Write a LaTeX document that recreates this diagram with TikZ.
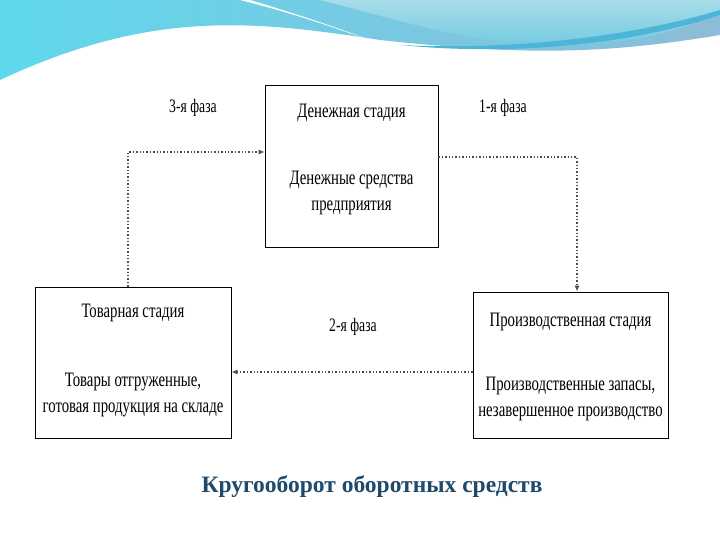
\documentclass[tikz,border=0pt]{standalone}
\usepackage{fontspec}
\setmainfont{Liberation Serif}
\usetikzlibrary{arrows.meta}
\definecolor{titlec}{HTML}{1F4A6B}
\definecolor{waveA}{HTML}{5FD8EC}
\definecolor{waveB}{HTML}{8DBCD8}
\definecolor{waveC}{HTML}{A8DDEA}
\definecolor{waveD}{HTML}{4DB5D8}
\tikzset{
  box/.style={draw=black, line width=0.9pt, fill=white, minimum width=#1, inner sep=0pt},
  conn/.style={draw=black!70, line width=1.4pt, dotted, -{Latex[length=6pt,width=5pt]}},
  txt/.style={font=\fontsize{20.5}{25}\selectfont, align=center},
  lbl/.style={font=\fontsize{19}{21}\selectfont}
}
\begin{document}
\begin{tikzpicture}[x=1pt,y=-1pt]
\useasboundingbox (0,0) rectangle (720,540);
% decorative wave
\shade[left color=waveA, right color=waveB]
  (0,0) -- (720,0) -- (720,35) .. controls (600,55) and (520,55) .. (380,40)
  .. controls (250,20) and (150,10) .. (0,80) -- cycle;
\shade[top color=waveC, bottom color=waveB!80!cyan]
  (320,0) -- (720,0) -- (720,12) .. controls (660,40) and (600,48) .. (530,45)
  .. controls (450,38) and (380,15) .. (320,0) -- cycle;
\fill[white] (240,0) .. controls (300,15) and (340,30) .. (370,40)
  .. controls (330,25) and (290,12) .. (250,0) -- cycle;
\fill[waveD] (400,45) .. controls (500,50) and (620,40) .. (720,10)
  -- (720,15) .. controls (620,48) and (500,55) .. (400,45) -- cycle;
% boxes
\node[box=173pt, minimum height=162pt] (m) at (351.5,166) {};
\node[box=196pt, minimum height=151pt] (t) at (133,362.5) {};
\node[box=195pt, minimum height=146pt] (p) at (570.5,365) {};
% texts
\node[txt] at (351.5,113) {\scalebox{0.72}[1]{Денежная стадия}};
\node[txt] at (351.5,193) {\scalebox{0.72}[1]{Денежные средства}\\[1pt]\scalebox{0.72}[1]{предприятия}};
\node[txt] at (133,313) {\scalebox{0.72}[1]{Товарная стадия}};
\node[txt] at (133,395) {\scalebox{0.72}[1]{Товары отгруженные,}\\[1pt]\scalebox{0.72}[1]{готовая продукция на складе}};
\node[txt] at (570.5,322) {\scalebox{0.72}[1]{Производственная стадия}};
\node[txt] at (570.5,399) {\scalebox{0.72}[1]{Производственные запасы,}\\[1pt]\scalebox{0.72}[1]{незавершенное производство}};
\node[lbl] (l3) at (193,108) {\scalebox{0.72}[1]{3-я фаза}};
\node[lbl] (l1) at (503,108) {\scalebox{0.72}[1]{1-я фаза}};
\node[lbl] (l2) at (353,327) {\scalebox{0.72}[1]{2-я фаза}};
\node[font=\bfseries\fontsize{23.5}{27}\selectfont, text=titlec] (title) at (372,487) {Кругооборот оборотных средств};
% connectors
\coordinate (c1) at (577,157);
\coordinate (c3) at (128,152);
\draw[conn] (m.east |- c1) -- (c1) -- (c1 |- p.north);
\draw[conn] (p.west |- 0,372) -- (t.east |- 0,372);
\draw[conn] (c3 |- t.north) -- (c3) -- (m.west |- c3);
\end{tikzpicture}
\end{document}
